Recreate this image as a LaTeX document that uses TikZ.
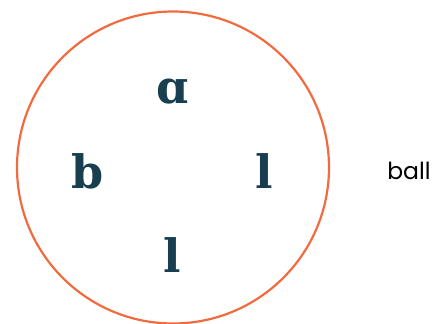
\documentclass[tikz,border=0pt]{standalone}
\usepackage{fontspec}
\setmainfont{Poppins}
\newfontfamily\letterfont{DejaVu Serif}
\definecolor{ring}{HTML}{F26B3F}
\definecolor{ink}{HTML}{173F4F}
\begin{document}
\begin{tikzpicture}[x=1pt,y=-1pt,
  letter/.style={text=ink,font=\letterfont\bfseries\fontsize{46}{46}\selectfont,inner sep=0pt,anchor=base},
  caption/.style={font=\fontsize{23.5}{23.5}\selectfont,inner sep=0pt,anchor=base}]
\useasboundingbox (0,0) rectangle (440,324);
\node[draw=ring,line width=2.2pt,circle,minimum size=312pt,inner sep=0pt] (ring) at (173,167.5) {};
\node[letter] (la) at (173,103) {ɑ};
\node[letter] (lb) at (88,188) {b};
\node[letter] (lr) at (264,188) {l};
\node[letter] (lbot) at (172,272) {l};
\node[caption] (cap) at (409,179) {ball};
\end{tikzpicture}
\end{document}
